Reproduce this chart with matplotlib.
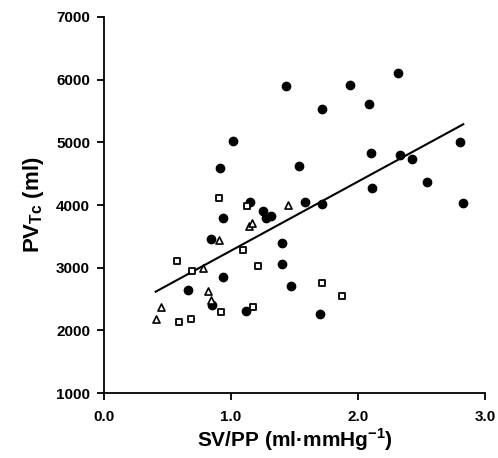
import matplotlib
matplotlib.use("Agg")
import matplotlib.pyplot as plt
import numpy as np

plt.rcParams["font.family"] = ["Liberation Sans", "DejaVu Sans"]
plt.rcParams["mathtext.fontset"] = "custom"
plt.rcParams["mathtext.rm"] = "Liberation Sans"
plt.rcParams["mathtext.bf"] = "Liberation Sans:bold"

# filled circles
circ_x = [1.437, 1.937, 2.317, 1.717, 2.084, 1.013, 2.806, 2.102, 2.333, 2.423,
          0.913, 1.535, 2.113, 2.543, 1.585, 1.714, 1.249, 1.273, 1.315, 1.404,
          1.404, 1.472, 1.701, 1.150, 0.934, 0.840, 0.934, 0.664, 0.853, 1.120,
          2.824]
circ_y = [5899, 5915, 6111, 5527, 5606, 5026, 5000, 4825, 4798, 4739,
          4585, 4627, 4276, 4367, 4053, 4011, 3899, 3787, 3830, 3398,
          3052, 2712, 2256, 4043, 3787, 3452, 2846, 2643, 2400, 2304,
          4037]

# open squares
sq_x = [0.906, 1.123, 1.092, 0.572, 0.690, 1.213, 1.719, 1.874, 0.591, 0.683,
        0.921, 1.173]
sq_y = [4107, 3984, 3277, 3106, 2947, 3026, 2760, 2543, 2138, 2176,
        2288, 2378]

# open triangles
tri_x = [1.445, 1.142, 1.163, 0.906, 0.782, 0.821, 0.840, 0.451, 0.409]
tri_y = [4000, 3670, 3717, 3441, 2990, 2625, 2484, 2367, 2176]

# regression line
fit_x = [0.407, 2.829]
fit_slope = 1103
fit_icpt = 2168

fig = plt.figure(figsize=(4.98, 4.58), dpi=100)
ax = fig.add_axes([0.2088, 0.1419, 0.7651, 0.821])

lx = np.array(fit_x)
ax.plot(lx, fit_icpt + fit_slope * lx, color="black", lw=1.5, zorder=2)

ax.scatter(circ_x, circ_y, s=36, marker="o", color="black", zorder=3)
ax.scatter(sq_x, sq_y, s=22, marker="s", facecolor="white", edgecolor="black",
           linewidth=1.3, zorder=3)
ax.scatter(tri_x, tri_y, s=26, marker="^", facecolor="white", edgecolor="black",
           linewidth=1.2, zorder=3)

ax.set_xlim(0, 3.0)
ax.set_ylim(1000, 7000)
ax.set_xticks([0, 1, 2, 3])
ax.set_xticklabels(["0.0", "1.0", "2.0", "3.0"])
ax.set_yticks(range(1000, 7001, 1000))

for s in ["top", "right"]:
    ax.spines[s].set_visible(False)
for s in ["left", "bottom"]:
    ax.spines[s].set_linewidth(1.3)

ax.tick_params(direction="out", length=5, width=1.3, labelsize=11, pad=5)
ax.tick_params(axis="x", pad=7)
for lab in ax.get_xticklabels() + ax.get_yticklabels():
    lab.set_fontweight("bold")

ax.set_xlabel(r"SV/PP (ml·mmHg$^{\mathbf{-1}}$)", fontsize=15,
              fontweight="bold", labelpad=2)
ax.set_ylabel(r"PV$_{\mathbf{Tc}}$ (ml)", fontsize=16, fontweight="bold",
              labelpad=7)

fig.savefig("out.png", dpi=100)
